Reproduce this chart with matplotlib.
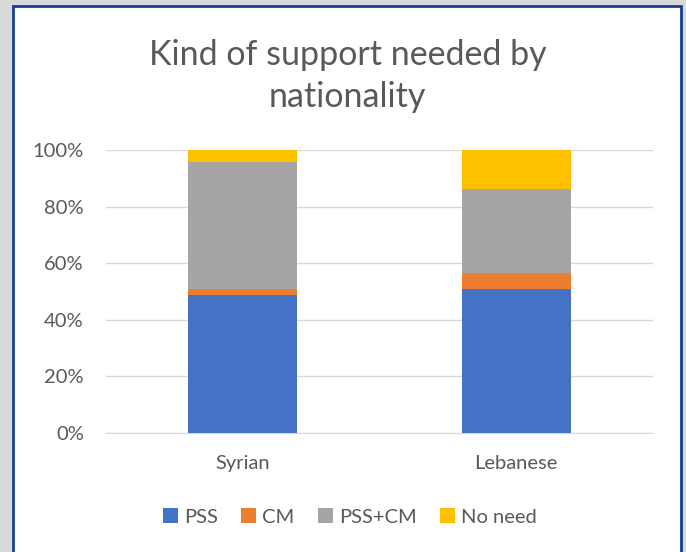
import matplotlib.pyplot as plt
from matplotlib.patches import Rectangle
import numpy as np

categories = ["Syrian", "Lebanese"]
pss = [48.8, 50.8]
cm = [2.1, 5.8]
pss_cm = [45.0, 29.5]
no_need = [4.1, 13.9]

labels = ["PSS", "CM", "PSS+CM", "No need"]
colors = ["#4472c4", "#ed7d31", "#a5a5a5", "#ffc000"]
txt = "#595959"

plt.rcParams['font.family'] = ['Lato', 'DejaVu Sans']

fig = plt.figure(figsize=(6.86, 5.52), dpi=100)
fig.patch.set_facecolor("#d9d9d9")
fig.patches.append(Rectangle((13 / 686, -0.05), 668 / 686, 1.05 - 6 / 552,
                             transform=fig.transFigure, facecolor="white",
                             edgecolor="#163e92", linewidth=2, zorder=-5))

ax = fig.add_axes([106 / 686, 1 - 433 / 552, 547 / 686, 283 / 552])
ax.set_facecolor("none")

x = np.arange(len(categories))
bottom = np.zeros(len(categories))
for vals, lab, col in zip([pss, cm, pss_cm, no_need], labels, colors):
    ax.bar(x, vals, 0.4, bottom=bottom, color=col, label=lab, zorder=3)
    bottom += np.array(vals)

ax.set_xlim(-0.5, 1.5)
ax.set_ylim(0, 100)
ax.set_yticks(range(0, 101, 20))
ax.set_yticklabels([f"{v}%" for v in range(0, 101, 20)])
ax.set_xticks(x)
ax.set_xticklabels(categories)
ax.grid(axis='y', color="#d9d9d9", linewidth=1, zorder=0)
for s in ["top", "right", "left"]:
    ax.spines[s].set_visible(False)
ax.spines["bottom"].set_color("#d9d9d9")
ax.tick_params(length=0, colors=txt, labelsize=14.5)
ax.tick_params(axis='y', pad=16)
ax.tick_params(axis='x', pad=16)

fig.text(0.507, 1 - 76 / 552, "Kind of support needed by\nnationality", ha='center',
         va='center', fontsize=24.5, color=txt, linespacing=1.35)

leg = fig.legend(loc='center', bbox_to_anchor=(0.51, 1 - 517 / 552), ncol=4,
                 frameon=False, fontsize=14.5, handlelength=0.75, handleheight=0.75,
                 handletextpad=0.3, columnspacing=1.15)
for t in leg.get_texts():
    t.set_color(txt)

fig.savefig("out.png", dpi=100, facecolor=fig.get_facecolor())
